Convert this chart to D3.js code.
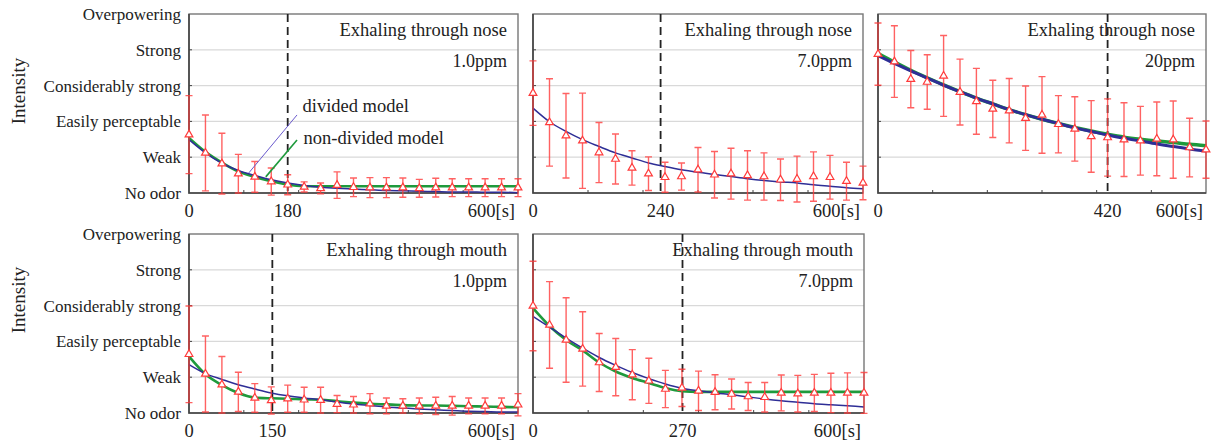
<!DOCTYPE html>
<html>
<head>
<meta charset="utf-8">
<script src="https://cdn.jsdelivr.net/npm/d3@7"></script>
<style>
  body { margin: 0; background: #fff; }
  svg { display: block; font-family: "Liberation Serif", "Times New Roman", serif; }
</style>
</head>
<body>
<svg id="chart" width="1211" height="441"></svg>
<script>
// Odor intensity decay after exhaling, five conditions, divided vs non-divided model fits.

const times = [0, 30, 60, 90, 120, 150, 180, 210, 240, 270, 300, 330, 360, 390, 420, 450, 480, 510, 540, 570, 600];
const intensityLabels = ["No odor", "Weak", "Easily perceptable", "Considerably strong", "Strong", "Overpowering"];

// nose, 1.0ppm
const noseLowMean  = [1.63, 1.12, 0.82, 0.54, 0.45, 0.32, 0.23, 0.17, 0.13, 0.22, 0.16, 0.15, 0.15, 0.15, 0.13, 0.15, 0.15, 0.15, 0.15, 0.15, 0.15];
const noseLowSd    = [1.09, 1.06, 0.85, 0.54, 0.43, 0.38, 0.28, 0.14, 0.15, 0.37, 0.26, 0.28, 0.28, 0.27, 0.25, 0.26, 0.25, 0.25, 0.25, 0.25, 0.25];
const noseLowDiv   = [1.49, 1.12, 0.83, 0.63, 0.49, 0.37, 0.28, 0.21, 0.16, 0.13, 0.11, 0.09, 0.07, 0.06, 0.05, 0.04, 0.03, 0.03, 0.02, 0.02, 0.01];
const noseLowNon   = [1.54, 1.15, 0.85, 0.60, 0.45, 0.33, 0.23, 0.19, 0.19, 0.19, 0.19, 0.19, 0.19, 0.19, 0.19, 0.19, 0.19, 0.19, 0.19, 0.19, 0.19];

// nose, 7.0ppm
const noseMidMean  = [2.79, 1.97, 1.60, 1.46, 1.13, 0.95, 0.70, 0.54, 0.44, 0.46, 0.65, 0.51, 0.54, 0.49, 0.46, 0.37, 0.39, 0.46, 0.44, 0.33, 0.28];
const noseMidSd    = [0.90, 1.22, 1.18, 1.33, 0.84, 0.70, 0.48, 0.47, 0.42, 0.38, 0.62, 0.65, 0.71, 0.69, 0.66, 0.58, 0.64, 0.69, 0.61, 0.53, 0.47];
const noseMidDiv   = [2.37, 1.99, 1.72, 1.49, 1.30, 1.12, 0.98, 0.84, 0.74, 0.65, 0.58, 0.52, 0.46, 0.40, 0.35, 0.31, 0.28, 0.23, 0.19, 0.15, 0.12];

// nose, 20ppm
const noseHighMean = [3.88, 3.67, 3.18, 3.10, 3.27, 2.82, 2.56, 2.35, 2.30, 2.09, 2.18, 1.92, 1.79, 1.58, 1.55, 1.49, 1.46, 1.51, 1.49, 1.27, 1.21];
const noseHighSd   = [0.87, 1.00, 0.80, 0.76, 1.13, 0.92, 0.92, 0.80, 0.90, 0.90, 1.07, 0.80, 0.90, 1.00, 1.08, 1.03, 0.96, 1.03, 1.08, 0.82, 0.80];
const noseHighDiv  = [3.84, 3.62, 3.41, 3.21, 3.01, 2.83, 2.65, 2.49, 2.33, 2.19, 2.06, 1.94, 1.82, 1.72, 1.62, 1.53, 1.45, 1.37, 1.30, 1.23, 1.17];
const noseHighNon  = [3.90, 3.66, 3.43, 3.22, 3.02, 2.83, 2.65, 2.49, 2.33, 2.19, 2.06, 1.94, 1.83, 1.73, 1.64, 1.56, 1.50, 1.45, 1.41, 1.36, 1.32];

// mouth, 1.0ppm
const mouthLowMean = [1.64, 1.09, 0.79, 0.59, 0.42, 0.35, 0.40, 0.37, 0.36, 0.25, 0.23, 0.26, 0.20, 0.20, 0.20, 0.20, 0.20, 0.20, 0.20, 0.20, 0.23];
const mouthLowSd   = [1.35, 1.06, 0.79, 0.55, 0.40, 0.38, 0.38, 0.35, 0.36, 0.24, 0.23, 0.28, 0.22, 0.20, 0.22, 0.24, 0.26, 0.22, 0.22, 0.22, 0.31];
const mouthLowDiv  = [1.35, 1.10, 0.94, 0.79, 0.67, 0.56, 0.48, 0.42, 0.37, 0.31, 0.25, 0.21, 0.17, 0.14, 0.11, 0.09, 0.07, 0.05, 0.04, 0.03, 0.03];
const mouthLowNon  = [1.58, 1.08, 0.78, 0.56, 0.43, 0.41, 0.40, 0.38, 0.37, 0.33, 0.29, 0.26, 0.24, 0.22, 0.21, 0.21, 0.20, 0.19, 0.18, 0.17, 0.16];

// mouth, 7.0ppm
const mouthMidMean = [2.99, 2.46, 2.04, 1.79, 1.41, 1.28, 1.07, 0.90, 0.67, 0.70, 0.62, 0.58, 0.53, 0.46, 0.44, 0.56, 0.54, 0.56, 0.56, 0.56, 0.56];
const mouthMidSd   = [1.25, 1.21, 1.18, 1.04, 0.81, 0.80, 0.70, 0.63, 0.52, 0.52, 0.55, 0.49, 0.42, 0.39, 0.41, 0.50, 0.51, 0.52, 0.55, 0.56, 0.57];
const mouthMidDiv  = [2.70, 2.40, 2.09, 1.81, 1.55, 1.33, 1.13, 0.96, 0.81, 0.69, 0.62, 0.56, 0.51, 0.45, 0.39, 0.34, 0.30, 0.26, 0.23, 0.20, 0.17];
const mouthMidNon  = [2.93, 2.43, 2.04, 1.75, 1.41, 1.16, 0.98, 0.84, 0.70, 0.61, 0.59, 0.59, 0.59, 0.59, 0.59, 0.59, 0.59, 0.59, 0.59, 0.59, 0.59];

const panelTitles = ["Exhaling through nose", "Exhaling through nose", "Exhaling through nose", "Exhaling through mouth", "Exhaling through mouth"];
const panelConc   = ["1.0ppm", "7.0ppm", "20ppm", "1.0ppm", "7.0ppm"];
const cutTimes    = [180, 232, 420, 152, 271];
const cutLabels   = ["180", "240", "420", "150", "270"];

const panels = [
  { box: [189, 518, 14, 193],  mean: noseLowMean,  sd: noseLowSd,  div: noseLowDiv,  non: noseLowNon,  yLabels: true,  legend: true },
  { box: [533, 863, 14, 193],  mean: noseMidMean,  sd: noseMidSd,  div: noseMidDiv,  non: null },
  { box: [878, 1206, 14, 193], mean: noseHighMean, sd: noseHighSd, div: noseHighDiv, non: noseHighNon, thick: true },
  { box: [189, 518, 234, 413], mean: mouthLowMean, sd: mouthLowSd, div: mouthLowDiv, non: mouthLowNon, yLabels: true },
  { box: [533, 864, 234, 413], mean: mouthMidMean, sd: mouthMidSd, div: mouthMidDiv, non: mouthMidNon }
];

const RED = "#ff3b3b";
const BLUE = "#2e2e96";
const GREEN = "#1e9a3c";
const FONT = 17;
const FONT_BIG = 18.5;

const svg = d3.select("#chart");

panels.forEach((p, i) => drawPanel(p, i));

// y axis titles
[91, 300].forEach(cy => {
  svg.append("text")
    .attr("transform", `translate(25,${cy}) rotate(-90)`)
    .attr("text-anchor", "middle")
    .attr("font-size", 19)
    .attr("fill", "#222")
    .text("Intensity");
});

function drawPanel(p, i) {
  const [x0, x1, y0, y1] = p.box;
  const x = d3.scaleLinear().domain([0, 600]).range([x0, x1]);
  const y = d3.scaleLinear().domain([0, 5]).range([y1, y0]);
  const g = svg.append("g");

  // gridlines
  g.selectAll(".grid")
    .data([1, 2, 3, 4])
    .join("line")
    .attr("x1", x0).attr("x2", x1)
    .attr("y1", d => y(d)).attr("y2", d => y(d))
    .attr("stroke", "#d9d9d9")
    .attr("stroke-width", 1.2);

  // frame
  g.append("rect")
    .attr("x", x0).attr("y", y0)
    .attr("width", x1 - x0).attr("height", y1 - y0)
    .attr("fill", "none")
    .attr("stroke", "#777")
    .attr("stroke-width", 1.4);
  g.append("path")
    .attr("d", `M${x0},${y0}V${y1}H${x1}`)
    .attr("fill", "none")
    .attr("stroke", "#444")
    .attr("stroke-width", 1.6);

  // y ticks (inward)
  g.selectAll(".ytick")
    .data([1, 2, 3, 4])
    .join("line")
    .attr("x1", x0).attr("x2", x0 + 3)
    .attr("y1", d => y(d)).attr("y2", d => y(d))
    .attr("stroke", "#444");

  // minor x ticks every 100 s
  g.selectAll(".xtick")
    .data([100, 200, 300, 400, 500])
    .join("line")
    .attr("x1", d => x(d)).attr("x2", d => x(d))
    .attr("y1", y1).attr("y2", y1 - 3)
    .attr("stroke", "#444");

  if (p.yLabels) {
    g.selectAll(".ylab")
      .data(intensityLabels)
      .join("text")
      .attr("x", x0 - 8)
      .attr("y", (d, k) => y(k))
      .attr("dy", "0.35em")
      .attr("text-anchor", "end")
      .attr("font-size", FONT)
      .attr("fill", "#222")
      .text(d => d);
  }

  // x tick labels: 0, cut time, 600[s]
  const lab = g.append("g").attr("font-size", FONT_BIG).attr("fill", "#222");
  lab.append("text").attr("x", x(0)).attr("y", y1 + 24).attr("text-anchor", "middle").text("0");
  lab.append("text").attr("x", x(cutTimes[i])).attr("y", y1 + 24).attr("text-anchor", "middle").text(cutLabels[i]);
  lab.append("text").attr("x", x(600) - 3).attr("y", y1 + 24).attr("text-anchor", "end").text("600[s]");

  // title
  g.append("text")
    .attr("x", x1 - 11).attr("y", y0 + 22)
    .attr("text-anchor", "end")
    .attr("font-size", FONT_BIG)
    .attr("fill", "#222")
    .text(panelTitles[i]);
  g.append("text")
    .attr("x", x1 - 11).attr("y", y0 + 53)
    .attr("text-anchor", "end")
    .attr("font-size", 18)
    .attr("fill", "#222")
    .text(panelConc[i]);

  // dashed cut line
  g.append("line")
    .attr("x1", x(cutTimes[i])).attr("x2", x(cutTimes[i]))
    .attr("y1", y0).attr("y2", y1)
    .attr("stroke", "#222")
    .attr("stroke-width", 1.8)
    .attr("stroke-dasharray", "8,5");

  const line = d3.line()
    .x((d, k) => x(times[k]))
    .y(d => y(d))
    .curve(d3.curveMonotoneX);

  if (p.non) {
    g.append("path")
      .datum(p.non)
      .attr("fill", "none")
      .attr("stroke", GREEN)
      .attr("stroke-width", p.thick ? 3.5 : 2.6)
      .attr("d", line);
  }
  g.append("path")
    .datum(p.div)
    .attr("fill", "none")
    .attr("stroke", BLUE)
    .attr("stroke-width", p.thick ? 3 : 1.5)
    .attr("d", line);

  // error bars
  const pts = times.map((t, k) => ({ t, m: p.mean[k], s: p.sd[k] }));
  const eb = g.append("g")
    .attr("stroke", RED)
    .attr("stroke-opacity", 0.8)
    .attr("stroke-width", 1.4);
  eb.selectAll(".bar")
    .data(pts)
    .join("path")
    .attr("fill", "none")
    .attr("d", d => {
      const cx = x(d.t), top = y(d.m + d.s), bot = y(d.m - d.s);
      return `M${cx - 3.5},${top}H${cx + 3.5}M${cx},${top}V${bot}M${cx - 3.5},${bot}H${cx + 3.5}`;
    });

  g.selectAll(".marker")
    .data(pts)
    .join("path")
    .attr("transform", d => `translate(${x(d.t)},${y(d.m)})`)
    .attr("d", d3.symbol(d3.symbolTriangle, 26))
    .attr("fill", "#fff")
    .attr("stroke", RED)
    .attr("stroke-width", 1.2);

  if (p.legend) {
    // leader lines to the two model curves
    g.append("line")
      .attr("x1", x(109)).attr("y1", y(0.56))
      .attr("x2", x(197)).attr("y2", y(2.18))
      .attr("stroke", "#6a5acd").attr("stroke-width", 1);
    g.append("line")
      .attr("x1", x(140)).attr("y1", y(0.45))
      .attr("x2", x(197)).attr("y2", y(1.48))
      .attr("stroke", GREEN).attr("stroke-width", 1.6);
    g.append("text")
      .attr("x", x(207)).attr("y", y(2.26))
      .attr("font-size", FONT_BIG).attr("fill", "#222")
      .text("divided model");
    g.append("text")
      .attr("x", x(209)).attr("y", y(1.37))
      .attr("font-size", FONT_BIG).attr("fill", "#222")
      .text("non-divided model");
  }
}
</script>
</body>
</html>
